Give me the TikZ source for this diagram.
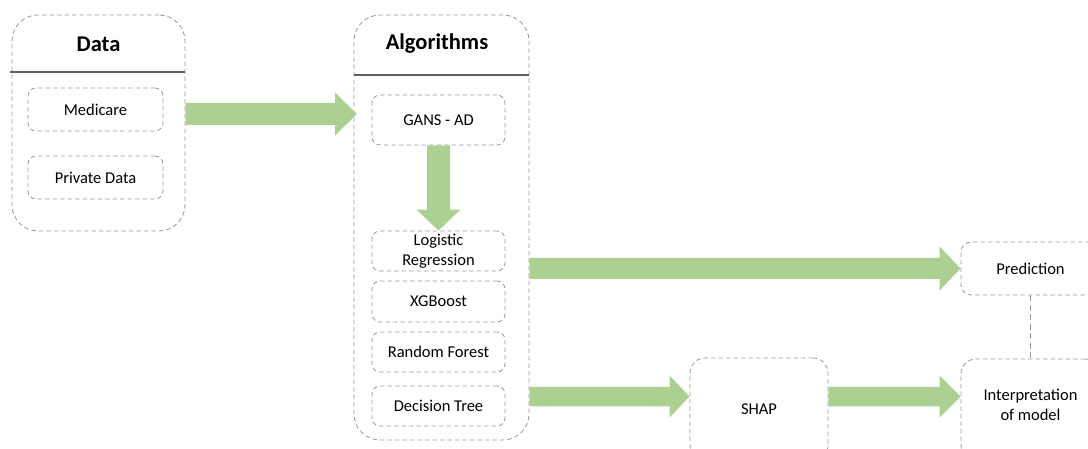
\documentclass[tikz,border=0pt]{standalone}
\usepackage{fontspec}
\setmainfont{Carlito}
\usetikzlibrary{calc}

\definecolor{boxline}{RGB}{155,155,155}
\definecolor{headrule}{RGB}{95,95,95}
\definecolor{flow}{RGB}{172,208,146}

\tikzset{
  dashbox/.style={draw=boxline, line width=0.85pt, dash pattern=on 4.5pt off 3pt,
    rounded corners=#1, inner sep=0pt, align=center,
    font=\fontsize{16.5}{19.5}\selectfont},
  dashbox/.default=8pt,
  container/.style={dashbox=26pt},
  headline/.style={font=\fontsize{22.5}{26}\selectfont\bfseries},
  headrulestyle/.style={draw=headrule, line width=1.1pt},
  linkline/.style={draw=boxline, line width=1.1pt, dash pattern=on 6pt off 3.5pt},
  flowfill/.style={fill=flow, draw=none},
}

% horizontal block arrow: start, tip, shaft half width, head half width, head length
\newcommand\blockarrowH[5]{%
  \fill[flowfill] let \p1=#1, \p2=#2 in
    (\x1,\y2+#3) -- (\x2-#5,\y2+#3) -- (\x2-#5,\y2+#4) -- (\x2,\y2)
    -- (\x2-#5,\y2-#4) -- (\x2-#5,\y2-#3) -- (\x1,\y2-#3) -- cycle;}
% downward block arrow: start, tip, shaft half width, head half width, head length
\newcommand\blockarrowV[5]{%
  \fill[flowfill] let \p1=#1, \p2=#2 in
    (\x2-#3,\y1) -- (\x2-#3,\y2+#5) -- (\x2-#4,\y2+#5) -- (\x2,\y2)
    -- (\x2+#4,\y2+#5) -- (\x2+#3,\y2+#5) -- (\x2+#3,\y1) -- cycle;}

\begin{document}
\begin{tikzpicture}[x=1pt,y=-1pt]
\useasboundingbox (0,0) rectangle (1088,449);
\clip (0,0) rectangle (1088,449);

% ---- data sources ----
\node[container, minimum width=173pt, minimum height=216pt] (data) at (98.5,123) {};
\node[headline] (datatitle) at (98.5,44) {Data};
\draw[headrulestyle] (10,72) -- (data.east |- 0,72);
\node[dashbox, minimum width=135pt, minimum height=43pt] (medicare) at (95.5,109.5) {Medicare};
\node[dashbox, minimum width=135pt, minimum height=43pt] (private) at (95.5,177.5) {Private Data};

% ---- algorithms ----
\node[container, minimum width=175pt, minimum height=425pt] (alg) at (441.5,227.5) {};
\node[headline] (algtitle) at (437,44) {Algorithms};
\draw[headrulestyle] (alg.west |- 0,75) -- (alg.east |- 0,75);
\node[dashbox, minimum width=133pt, minimum height=50pt] (gans) at (438.5,120) {GANS - AD};
\node[dashbox, minimum width=133pt, minimum height=40pt] (logreg) at (438.5,251) {Logistic\\Regression};
\node[dashbox, minimum width=133pt, minimum height=41pt] (xgb) at (438.5,301.5) {XGBoost};
\node[dashbox, minimum width=133pt, minimum height=40pt] (rf) at (438.5,352) {Random Forest};
\node[dashbox, minimum width=133pt, minimum height=40pt] (dt) at (438.5,406) {Decision Tree};

% ---- outputs ----
\node[dashbox=15pt, minimum width=138pt, minimum height=102pt] (shap) at (759,409) {SHAP};
\node[dashbox=10pt, minimum width=139pt, minimum height=53pt] (pred) at (1030.5,268.5) {Prediction};
\node[dashbox=15pt, minimum width=139pt, minimum height=101pt, text depth=9pt] (interp) at (1030.5,409.5) {Interpretation\\of model};

% ---- connectors ----
\coordinate (a1tip) at (357,114);
\blockarrowH{(data.east)}{(a1tip)}{11pt}{21.5pt}{22pt}
\blockarrowV{(gans.south)}{(logreg.north)}{11.5pt}{22pt}{21pt}
\blockarrowH{(alg.east)}{(pred.west)}{10.5pt}{22pt}{21pt}
\coordinate (shapin) at (shap.west |- 0,396.5);
\coordinate (interpin) at (interp.west |- 0,396.5);
\blockarrowH{(alg.east)}{(shapin)}{9.75pt}{21pt}{20pt}
\blockarrowH{(shap.east)}{(interpin)}{9.75pt}{21pt}{21pt}
\draw[linkline] (pred.south) -- (interp.north);
\end{tikzpicture}
\end{document}
